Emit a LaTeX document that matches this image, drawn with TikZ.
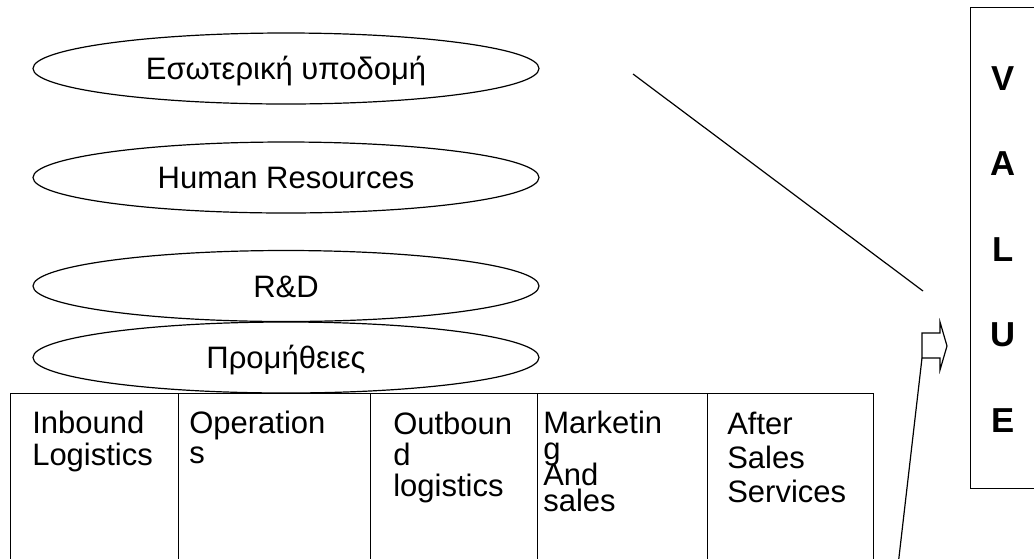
\documentclass[tikz,border=0pt]{standalone}
\usepackage{fontspec}
\setmainfont{Liberation Sans}
\usetikzlibrary{shapes.geometric}
\lineskiplimit=-30pt
\begin{document}
\begin{tikzpicture}[x=0.75pt,y=-0.75pt,
  activity/.style={ellipse, draw, line width=0.9pt, minimum width=379.5pt,
    minimum height=53.25pt, inner sep=0pt,
    font=\fontsize{23.25}{27}\selectfont, text height=16.6pt, text depth=0pt},
  cell/.style={rectangle, draw, line width=1.1pt, anchor=north west,
    minimum height=170pt, inner sep=0pt},
  celltext/.style={anchor=north west, inner sep=0pt, align=left,
    font=\fontsize{23.25}{23.8}\selectfont},
  letter/.style={font=\fontsize{26}{30}\selectfont\bfseries, inner sep=0pt,
    text height=18.6pt, text depth=0pt},
  thin/.style={line width=0.9pt}
]
\useasboundingbox (0,0) rectangle (1034,558);
\clip (0,0) rectangle (1034,558);

% support activities
\node[activity] (infra) at (286,68.5) {Εσωτερική υποδομή};
\node[activity] (hr)    at (286,177.5) {Human Resources};
\node[activity] (rd)    at (286,286) {R\&D};
\node[activity] (proc)  at (286,357.5) {Προμήθειες};

% primary activities
\node[cell, minimum width=126pt]   (c1) at (10,393) {};
\node[cell, minimum width=144pt]   (c2) at (178,393) {};
\node[cell, minimum width=125.25pt] (c3) at (370,393) {};
\node[cell, minimum width=127.5pt] (c4) at (537,393) {};
\node[cell, minimum width=124.5pt] (c5) at (707,393) {};

\node[celltext] (t1) at (32,411) {Inbound\\Logistics};
\node[celltext, font=\fontsize{23.25}{22.5}\selectfont] (t2) at (189,411) {Operation\\s};
\node[celltext, font=\fontsize{23.25}{23.25}\selectfont] (t3) at (393,412) {Outboun\\d\\logistics};
\node[celltext, font=\fontsize{23.25}{19.5}\selectfont] (t4) at (543,411) {Marketin\\g\\And\\sales};
\node[celltext, font=\fontsize{23.25}{25.5}\selectfont] (t5) at (727,412) {After\\Sales\\Services};

% value column
\node[rectangle, draw, line width=1.1pt, anchor=north west, inner sep=0pt,
  minimum width=60pt, minimum height=360.75pt] (value) at (970,7) {};
\node[letter] (v) at (1003.5,78) {V};
\node[letter] (a) at (1003.5,163.5) {A};
\node[letter] (l) at (1003.5,249) {L};
\node[letter] (u) at (1003.5,334.5) {U};
\node[letter] (e) at (1003.5,420) {E};

% margin line
\coordinate (m1) at (633,74);
\coordinate (m2) at (923,291);
\draw[thin] (m1) -- (m2);

% block arrow into the value column
\coordinate (s1) at (922,333);
\coordinate (s2) at (940,333);
\coordinate (h1) at (940,322);
\coordinate (tip) at (947,346);
\coordinate (h2) at (940,370);
\coordinate (s3) at (940,358);
\coordinate (s4) at (922,358);
\draw[thin, line join=miter] (s1) -- (s2) -- (h1) -- (tip) -- (h2) -- (s3) -- (s4) -- cycle;

% lower margin line
\coordinate (m3) at (897.5,570);
\draw[thin] (s4) -- (m3);
\end{tikzpicture}
\end{document}
